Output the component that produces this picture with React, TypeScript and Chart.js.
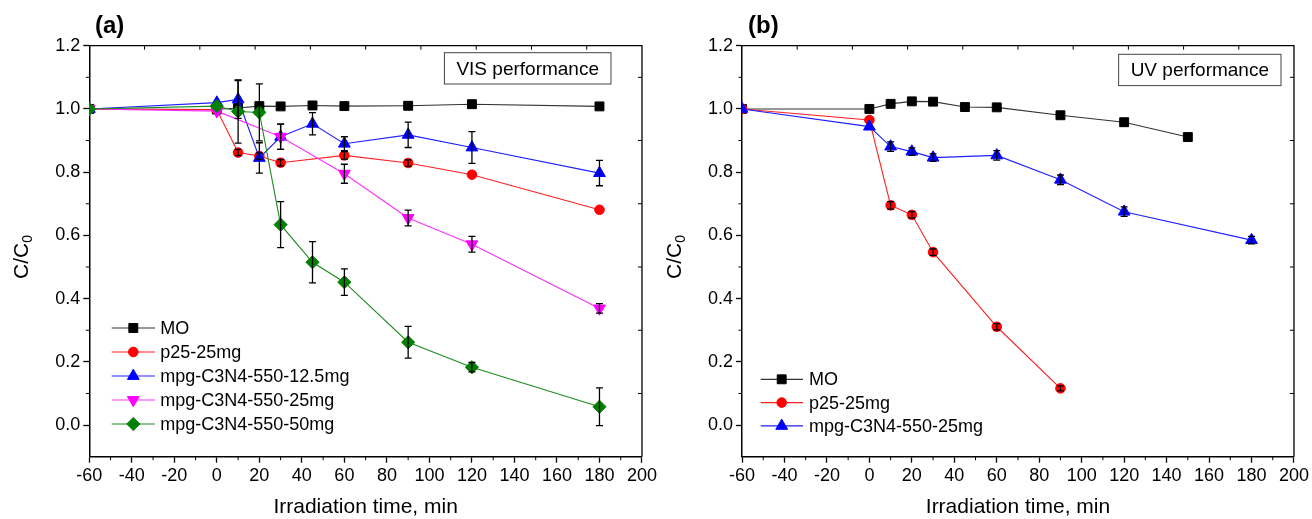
import React, { useEffect, useRef } from "react";
import { Chart, registerables } from "chart.js";
Chart.register(...registerables);

const FONT = '"Liberation Sans", Arial, sans-serif';

// ---- axis ticks ----
const xTickValues = [-60, -40, -20, 0, 20, 40, 60, 80, 100, 120, 140, 160, 180, 200];
const xMinorTicks = [-50, -30, -10, 10, 30, 50, 70, 90, 110, 130, 150, 170, 190];
const xTopTicks = [-34, -8, 18, 44, 70, 96, 122, 148, 174];
const yTickValues = [0, 0.2, 0.4, 0.6, 0.8, 1.0, 1.2];
const yMinorTicks = [0.1, 0.3, 0.5, 0.7, 0.9, 1.1];

// ---- panel (a): VIS performance ----
const visMoTime = [-60, 0, 10, 20, 30, 45, 60, 90, 120, 180];
const visMoValue = [1.0, 0.998, 1.003, 1.009, 1.008, 1.011, 1.009, 1.01, 1.015, 1.008];
const visMoError = [0, 0, 0, 0, 0, 0, 0, 0, 0, 0];

const visP25Time = [-60, 0, 10, 20, 30, 60, 90, 120, 180];
const visP25Value = [1.0, 0.997, 0.862, 0.851, 0.83, 0.853, 0.829, 0.792, 0.681];
const visP25Error = [0, 0, 0.01, 0.01, 0.01, 0.012, 0.01, 0, 0];

const visMpg125Time = [-60, 0, 10, 20, 30, 45, 60, 90, 120, 180];
const visMpg125Value = [1.0, 1.02, 1.03, 0.845, 0.912, 0.953, 0.89, 0.918, 0.878, 0.797];
const visMpg125Error = [0, 0, 0.06, 0.048, 0.04, 0.035, 0.022, 0.04, 0.05, 0.04];

const visMpg25Time = [-60, 0, 30, 60, 90, 120, 180];
const visMpg25Value = [1.0, 0.993, 0.912, 0.795, 0.655, 0.572, 0.369];
const visMpg25Error = [0, 0, 0.04, 0.03, 0.025, 0.025, 0.015];

const visMpg50Time = [-60, 0, 10, 20, 30, 45, 60, 90, 120, 180];
const visMpg50Value = [1.0, 1.009, 0.992, 0.989, 0.634, 0.515, 0.452, 0.262, 0.183, 0.058];
const visMpg50Error = [0, 0, 0.1, 0.09, 0.073, 0.065, 0.042, 0.05, 0.015, 0.06];

// ---- panel (b): UV performance ----
const uvMoTime = [-60, 0, 10, 20, 30, 45, 60, 90, 120, 150];
const uvMoValue = [1.0, 1.0, 1.016, 1.024, 1.023, 1.006, 1.005, 0.98, 0.958, 0.911];
const uvMoError = [0, 0, 0, 0, 0, 0, 0, 0, 0, 0];

const uvP25Time = [-60, 0, 10, 20, 30, 60, 90];
const uvP25Value = [1.0, 0.965, 0.695, 0.665, 0.547, 0.311, 0.116];
const uvP25Error = [0, 0, 0.012, 0.01, 0.01, 0.01, 0.008];

const uvMpg25Time = [-60, 0, 10, 20, 30, 60, 90, 120, 180];
const uvMpg25Value = [1.0, 0.944, 0.881, 0.865, 0.846, 0.853, 0.776, 0.675, 0.585];
const uvMpg25Error = [0, 0, 0.015, 0.012, 0.012, 0.015, 0.015, 0.015, 0.012];

type Series = {
  label: string;
  time: number[];
  value: number[];
  error: number[];
  color: string;
  lineColor: string;
  pointStyle: string;
  rotation: number;
  radius: number;
};

const visSeries: Series[] = [
  { label: "MO", time: visMoTime, value: visMoValue, error: visMoError, color: "#000000", lineColor: "#333333", pointStyle: "rect", rotation: 0, radius: 6.3 },
  { label: "p25-25mg", time: visP25Time, value: visP25Value, error: visP25Error, color: "#ff0000", lineColor: "#ff2020", pointStyle: "circle", rotation: 0, radius: 4.8 },
  { label: "mpg-C3N4-550-12.5mg", time: visMpg125Time, value: visMpg125Value, error: visMpg125Error, color: "#0000ff", lineColor: "#2020ff", pointStyle: "triangle", rotation: 0, radius: 6.8 },
  { label: "mpg-C3N4-550-25mg", time: visMpg25Time, value: visMpg25Value, error: visMpg25Error, color: "#ff00ff", lineColor: "#ff30ff", pointStyle: "triangle", rotation: 180, radius: 6.8 },
  { label: "mpg-C3N4-550-50mg", time: visMpg50Time, value: visMpg50Value, error: visMpg50Error, color: "#008000", lineColor: "#1e8c1e", pointStyle: "rectRot", rotation: 0, radius: 6.6 },
];

const uvSeries: Series[] = [
  { label: "MO", time: uvMoTime, value: uvMoValue, error: uvMoError, color: "#000000", lineColor: "#333333", pointStyle: "rect", rotation: 0, radius: 6.3 },
  { label: "p25-25mg", time: uvP25Time, value: uvP25Value, error: uvP25Error, color: "#ff0000", lineColor: "#ff2020", pointStyle: "circle", rotation: 0, radius: 4.8 },
  { label: "mpg-C3N4-550-25mg", time: uvMpg25Time, value: uvMpg25Value, error: uvMpg25Error, color: "#0000ff", lineColor: "#2020ff", pointStyle: "triangle", rotation: 0, radius: 6.8 },
];

type Panel = {
  series: Series[];
  tag: string;
  tagX: number;
  box: string;
  boxRight: number;
  boxTop: number;
  width: number;
  yAxisWidth: number;
  padRight: number;
  legX0: number;
  legX1: number;
  legXm: number;
  legXt: number;
  legY0: number;
  legDy: number;
};

const panelA: Panel = {
  series: visSeries, tag: "(a)", tagX: 95, box: "VIS performance", boxRight: 31, boxTop: 7,
  width: 660, yAxisWidth: 89.3, padRight: 18,
  legX0: 22.4, legX1: 65.7, legXm: 44, legXt: 71, legY0: 328, legDy: 24,
};

const panelB: Panel = {
  series: uvSeries, tag: "(b)", tagX: 88, box: "UV performance", boxRight: 13, boxTop: 8.6,
  width: 652, yAxisWidth: 82, padRight: 18,
  legX0: 18.7, legX1: 61, legXm: 39.7, legXt: 67, legY0: 379.3, legDy: 23.3,
};

function drawMarker(ctx: CanvasRenderingContext2D, style: string, x: number, y: number, r: number, rotation: number, color: string) {
  ctx.save();
  ctx.fillStyle = color;
  ctx.strokeStyle = color;
  ctx.lineWidth = 1;
  ctx.beginPath();
  if (style === "circle") {
    ctx.arc(x, y, r, 0, Math.PI * 2);
  } else if (style === "rect") {
    const s = Math.SQRT1_2 * r;
    ctx.rect(x - s, y - s, 2 * s, 2 * s);
  } else if (style === "rectRot") {
    ctx.moveTo(x, y - r);
    ctx.lineTo(x + r, y);
    ctx.lineTo(x, y + r);
    ctx.lineTo(x - r, y);
    ctx.closePath();
  } else {
    let rad = (rotation * Math.PI) / 180;
    ctx.moveTo(x + Math.sin(rad) * r, y - Math.cos(rad) * r);
    rad += (2 * Math.PI) / 3;
    ctx.lineTo(x + Math.sin(rad) * r, y - Math.cos(rad) * r);
    rad += (2 * Math.PI) / 3;
    ctx.lineTo(x + Math.sin(rad) * r, y - Math.cos(rad) * r);
    ctx.closePath();
  }
  ctx.fill();
  ctx.stroke();
  ctx.restore();
}

function buildChart(canvas: HTMLCanvasElement, panel: Panel) {
  const n = panel.series.length;
  const plugin = {
    id: "decor" + panel.tag.replace(/[()]/g, ""),
    afterDatasetsDraw(chart: any) {
      const ctx: CanvasRenderingContext2D = chart.ctx;
      const xs = chart.scales.x;
      const ys = chart.scales.y;
      ctx.save();
      ctx.strokeStyle = "#000";
      ctx.lineWidth = 1.3;
      panel.series.forEach((s) => {
        s.time.forEach((t, i) => {
          const e = s.error[i];
          if (!e) return;
          const x = xs.getPixelForValue(t);
          const y1 = ys.getPixelForValue(s.value[i] + e);
          const y2 = ys.getPixelForValue(s.value[i] - e);
          ctx.beginPath();
          ctx.moveTo(x, y1);
          ctx.lineTo(x, y2);
          ctx.moveTo(x - 3.5, y1);
          ctx.lineTo(x + 3.5, y1);
          ctx.moveTo(x - 3.5, y2);
          ctx.lineTo(x + 3.5, y2);
          ctx.stroke();
        });
      });
      ctx.restore();
    },
    afterDraw(chart: any) {
      const ctx: CanvasRenderingContext2D = chart.ctx;
      const xs = chart.scales.x;
      const ys = chart.scales.y;
      const { left, right, top, bottom } = chart.chartArea;
      ctx.save();
      // frame top & right
      ctx.strokeStyle = "#000";
      ctx.lineWidth = 1.3;
      ctx.beginPath();
      ctx.moveTo(left, top);
      ctx.lineTo(right, top);
      ctx.lineTo(right, bottom);
      ctx.stroke();
      // minor ticks
      ctx.lineWidth = 1;
      ctx.beginPath();
      xMinorTicks.forEach((v) => {
        const x = xs.getPixelForValue(v);
        ctx.moveTo(x, bottom);
        ctx.lineTo(x, bottom + 3.5);
      });
      yMinorTicks.forEach((v) => {
        const y = ys.getPixelForValue(v);
        ctx.moveTo(left, y);
        ctx.lineTo(left - 3.5, y);
        ctx.moveTo(right, y);
        ctx.lineTo(right - 4, y);
      });
      xTopTicks.forEach((v) => {
        const x = xs.getPixelForValue(v);
        ctx.moveTo(x, top);
        ctx.lineTo(x, top + 4);
      });
      ctx.stroke();

      // legend
      ctx.font = `18px ${FONT}`;
      ctx.textBaseline = "middle";
      ctx.textAlign = "left";
      panel.series.forEach((s, i) => {
        const y = panel.legY0 + i * panel.legDy;
        ctx.strokeStyle = s.lineColor;
        ctx.lineWidth = 1.2;
        ctx.beginPath();
        ctx.moveTo(left + panel.legX0, y);
        ctx.lineTo(left + panel.legX1, y);
        ctx.stroke();
        drawMarker(ctx, s.pointStyle, left + panel.legXm, y, s.radius, s.rotation, s.color);
        ctx.fillStyle = "#000";
        ctx.fillText(s.label, left + panel.legXt, y + 1);
      });

      // performance box
      ctx.font = `19px ${FONT}`;
      const tw = ctx.measureText(panel.box).width;
      const boxR = right - panel.boxRight;
      const boxL = boxR - tw - 24;
      const boxT = top + panel.boxTop;
      const boxH = 31.3;
      ctx.strokeStyle = "#444";
      ctx.lineWidth = 1;
      ctx.strokeRect(boxL, boxT, boxR - boxL, boxH);
      ctx.fillStyle = "#000";
      ctx.textAlign = "center";
      ctx.fillText(panel.box, (boxL + boxR) / 2, boxT + boxH / 2 + 1);

      // panel tag
      ctx.font = `bold 24px ${FONT}`;
      ctx.textAlign = "left";
      ctx.fillText(panel.tag, panel.tagX, 26);

      // x title
      ctx.font = `21px ${FONT}`;
      ctx.textAlign = "center";
      ctx.fillText("Irradiation time, min", (left + right) / 2, 507);

      // y title C/C0 rotated
      ctx.save();
      ctx.translate(left - 67, 257);
      ctx.rotate(-Math.PI / 2);
      ctx.font = `21px ${FONT}`;
      const wMain = ctx.measureText("C/C").width;
      ctx.font = `14px ${FONT}`;
      const wSub = ctx.measureText("0").width;
      const start = -(wMain + wSub) / 2;
      ctx.textAlign = "left";
      ctx.font = `21px ${FONT}`;
      ctx.fillText("C/C", start, 0);
      ctx.font = `14px ${FONT}`;
      ctx.fillText("0", start + wMain, 6);
      ctx.restore();

      ctx.restore();
    },
  };

  const datasets = panel.series.map((s, i) => ({
    label: s.label,
    data: s.time.map((t, k) => ({ x: t, y: s.value[k] })),
    borderColor: s.lineColor,
    backgroundColor: s.color,
    borderWidth: 1.1,
    pointStyle: s.pointStyle,
    rotation: s.rotation,
    pointRadius: s.radius,
    pointBorderWidth: 1,
    pointBorderColor: s.color,
    pointBackgroundColor: s.color,
    tension: 0,
    fill: false,
    order: n - 1 - i,
  }));

  return new Chart(canvas, {
    type: "line",
    data: { datasets } as any,
    options: {
      animation: false,
      responsive: false,
      devicePixelRatio: 1,
      layout: { padding: { left: 0, right: panel.padRight, top: 45.7, bottom: 0 } },
      plugins: { legend: { display: false }, tooltip: { enabled: false }, title: { display: false } },
      scales: {
        x: {
          type: "linear",
          min: -60,
          max: 200,
          afterBuildTicks: (scale: any) => {
            scale.ticks = xTickValues.map((v) => ({ value: v }));
          },
          afterFit: (scale: any) => {
            scale.height = 519 - 456.7;
          },
          grid: { display: true, drawOnChartArea: false, drawTicks: true, tickLength: 6, tickWidth: 1.3, tickColor: "#000" },
          border: { display: true, color: "#000", width: 1.5 },
          ticks: {
            autoSkip: false,
            maxRotation: 0,
            padding: 3,
            color: "#000",
            font: { size: 18, family: FONT },
            callback: (v: any) => String(v),
          },
        },
        y: {
          type: "linear",
          min: -0.1,
          max: 1.2,
          afterBuildTicks: (scale: any) => {
            scale.ticks = yTickValues.map((v) => ({ value: v }));
          },
          afterFit: (scale: any) => {
            scale.width = panel.yAxisWidth;
          },
          grid: { display: true, drawOnChartArea: false, drawTicks: true, tickLength: 6, tickWidth: 1.3, tickColor: "#000" },
          border: { display: true, color: "#000", width: 1.5 },
          ticks: {
            autoSkip: false,
            padding: 3,
            color: "#000",
            font: { size: 18, family: FONT },
            callback: (v: any) => Number(v).toFixed(1),
          },
        },
      },
    } as any,
    plugins: [plugin],
  });
}

export default function App() {
  const refA = useRef<HTMLCanvasElement>(null);
  const refB = useRef<HTMLCanvasElement>(null);
  useEffect(() => {
    const a = buildChart(refA.current!, panelA);
    const b = buildChart(refB.current!, panelB);
    return () => {
      a.destroy();
      b.destroy();
    };
  }, []);
  return (
    <div style={{ position: "absolute", left: 0, top: 0, width: 1312, height: 519, background: "#fff" }}>
      <canvas ref={refA} width={panelA.width} height={519} style={{ position: "absolute", left: 0, top: 0 }} />
      <canvas ref={refB} width={panelB.width} height={519} style={{ position: "absolute", left: panelA.width, top: 0 }} />
    </div>
  );
}
